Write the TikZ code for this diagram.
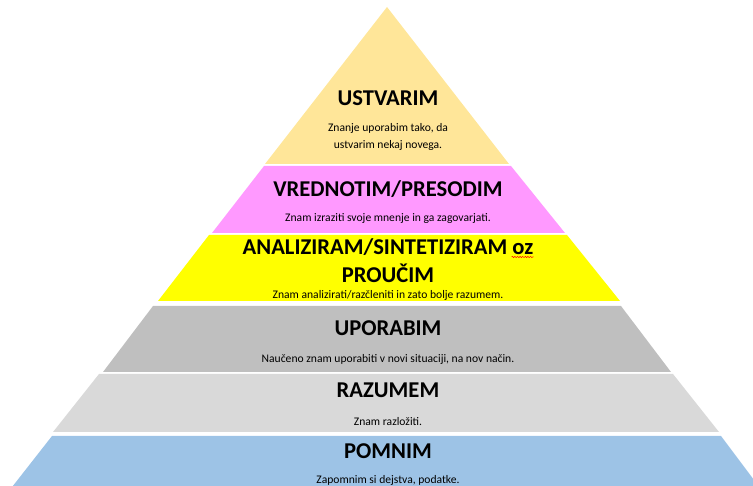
\documentclass[tikz,border=0pt]{standalone}
\usepackage{fontspec}
\setmainfont{Carlito}
\usetikzlibrary{decorations.pathmorphing}

\definecolor{ustvarimBarva}{HTML}{FFE699}
\definecolor{vrednotimBarva}{HTML}{FF99FF}
\definecolor{analiziramBarva}{HTML}{FFFF00}
\definecolor{uporabimBarva}{HTML}{BFBFBF}
\definecolor{razumemBarva}{HTML}{D9D9D9}
\definecolor{pomnimBarva}{HTML}{9DC3E6}

\begin{document}
\begin{tikzpicture} [ x=1pt, y=-1pt
								, naslov/.style={anchor=base, inner sep=0pt, font=\fontsize{22.6}{26}\selectfont\bfseries}
								, opis/.style={anchor=base, inner sep=0pt, font=\fontsize{11.6}{13}\selectfont}
								, valovito/.style={draw=red, line width=.5pt, decorate, decoration={snake, amplitude=.6pt, segment length=2.6pt}}
								]
	\useasboundingbox (0,0) rectangle (753,486);
	\clip (0,0) rectangle (753,486);

	% plasti piramide
	\fill [ustvarimBarva] 	(387,7) -- (509,164) -- (265,164) -- cycle;
	\fill [vrednotimBarva] 	(264,166) -- (511,166) -- (565,233) -- (212,233) -- cycle;
	\fill [analiziramBarva] 	(209,235) -- (567,235) -- (620,301) -- (158,301) -- cycle;
	\fill [uporabimBarva] 	(153,306) -- (621,306) -- (671,372) -- (103,372) -- cycle;
	\fill [razumemBarva] 	(99,374) -- (673,374) -- (719,432) -- (53,432) -- cycle;
	\fill [pomnimBarva] 		(52,436) -- (721,436) -- (766,496) -- (5,496) -- cycle;

	% naslovi in opisi
	\node (Ustvarim) 		[naslov] at (388,106) {USTVARIM};
	\node (UstvarimOpisA) 	[opis] at (388,132) {Znanje uporabim tako, da};
	\node (UstvarimOpisB) 	[opis] at (388,149) {ustvarim nekaj novega.};
	\node (Vrednotim) 		[naslov] at (388,197) {VREDNOTIM/PRESODIM};
	\node (VrednotimOpis) 	[opis] at (388,222) {Znam izraziti svoje mnenje in ga zagovarjati.};
	\node (Analiziram) 		[naslov] at (388,255) {ANALIZIRAM/SINTETIZIRAM oz};
	\node (Proucim) 			[naslov] at (388,283) {PROUČIM};
	\node (AnaliziramOpis) 	[opis] at (388,299) {Znam analizirati/razčleniti in zato bolje razumem.};
	\node (Uporabim) 		[naslov] at (388,336) {UPORABIM};
	\node (UporabimOpis) 	[opis] at (388,363) {Naučeno znam uporabiti v novi situaciji, na nov način.};
	\node (Razumem) 			[naslov] at (388,398) {RAZUMEM};
	\node (RazumemOpis) 		[opis] at (388,426) {Znam razložiti.};
	\node (Pomnim) 			[naslov] at (388,459) {POMNIM};
	\node (PomnimOpis) 		[opis] at (388,483) {Zapomnim si dejstva, podatke.};

	\draw [valovito] ([xshift=-22pt, yshift=-2pt]Analiziram.base east) -- ([yshift=-2pt]Analiziram.base east);

\end{tikzpicture}
\end{document}
